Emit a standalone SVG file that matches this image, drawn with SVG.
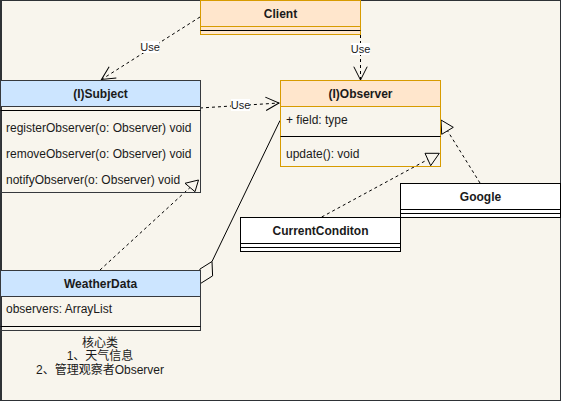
<svg xmlns="http://www.w3.org/2000/svg" width="561" height="401" viewBox="0 0 561 401">
<style>
text{font-family:"Liberation Sans",Arial,"Noto Sans CJK SC",sans-serif;font-size:12px;fill:#1a1a1a}
.t{font-weight:bold;text-anchor:middle}
.c{text-anchor:middle}
.org{fill:#ffe6cc;stroke:#d79b00}
.blu{fill:#cce5ff;stroke:#36393d}
.wht{fill:#ffffff;stroke:#000}
.sep{stroke:#000;fill:none}
.dash{stroke:#000;stroke-dasharray:3 3;fill:none}
.solid{stroke:#000;fill:none}
.lbl{font-size:11px;text-anchor:middle}
.lblbg{fill:#ffffff}
.hollow{fill:#f8f5ed;stroke:#000}
</style>
<defs>
<marker id="open" viewBox="-15 -8 17 16" refX="0" refY="0" markerWidth="17" markerHeight="16" markerUnits="userSpaceOnUse" orient="auto">
<path d="M-13.3,-6.7 L0,0 L-13.3,6.7" fill="none" stroke="#000" stroke-width="1"/>
</marker>
</defs>
<rect x="0.5" y="0.5" width="560" height="400" fill="#f8f5ed" stroke="#2e3236"/>
<line x1="1.5" y1="0" x2="1.5" y2="401" stroke="#2e3236"/>

<g id="connectors">
<path class="dash" d="M200,17 L101.5,79.5" marker-end="url(#open)"/>
<rect class="lblbg" x="141" y="41" width="18" height="12"/>
<text class="lbl" x="150" y="51">Use</text>

<path class="dash" d="M360.5,17 L360.5,80" marker-end="url(#open)"/>
<rect class="lblbg" x="351" y="43" width="19" height="12"/>
<text class="lbl" x="360.5" y="53">Use</text>

<path class="dash" d="M200,108 L279,103" marker-end="url(#open)"/>
<rect class="lblbg" x="231" y="99" width="19" height="12"/>
<text class="lbl" x="240.5" y="109">Use</text>

<path class="dash" d="M100,270 L190,187.5"/>
<polygon class="hollow" points="198.5,180 185,183.3 195,191.7"/>

<path class="dash" d="M321.7,217 L427.8,159.5"/>
<polygon class="hollow" points="439.3,153.3 425,153.3 430.7,165.7"/>

<path class="dash" d="M480,183 L447.5,130.8"/>
<polygon class="hollow" points="441,120 453.3,127.3 441.7,134.3"/>

<path class="solid" d="M280,120.5 L212,261.5"/>
<polygon class="hollow" points="212,261.5 212.6,275.9 200.5,283.5 199.9,269.1"/>
</g>

<g id="client">
<rect class="org" x="200.5" y="0.5" width="160" height="34"/>
<line x1="200.5" y1="26.5" x2="360.5" y2="26.5" stroke="#d79b00"/>
<line class="sep" x1="200.5" y1="30.5" x2="360.5" y2="30.5"/>
<text class="t" x="280.5" y="17.5">Client</text>
</g>

<g id="subject">
<rect x="0.5" y="80.5" width="200" height="112" fill="none" stroke="#36393d"/>
<rect class="blu" x="0.5" y="80.5" width="200" height="26"/>
<line class="sep" x1="0.5" y1="110.5" x2="200.5" y2="110.5"/>
<text class="t" x="100.5" y="97.5">(I)Subject</text>
<text x="6" y="132">registerObserver(o: Observer) void</text>
<text x="6" y="158">removeObserver(o: Observer) void</text>
<text x="6" y="184">notifyObserver(o: Observer) void</text>
</g>

<g id="observer">
<rect x="280.5" y="80.5" width="160" height="86" fill="none" stroke="#d79b00"/>
<rect class="org" x="280.5" y="80.5" width="160" height="26"/>
<line class="sep" x1="280.5" y1="136.5" x2="440.5" y2="136.5"/>
<text class="t" x="360.5" y="97.5">(I)Observer</text>
<text x="286" y="124">+ field: type</text>
<text x="286" y="158">update(): void</text>
</g>

<g id="google">
<rect class="wht" x="400.5" y="183.5" width="160" height="34"/>
<line class="sep" x1="400.5" y1="209.5" x2="560.5" y2="209.5"/>
<line class="sep" x1="400.5" y1="213.5" x2="560.5" y2="213.5"/>
<text class="t" x="480.5" y="200.5">Google</text>
</g>

<g id="currentconditon">
<rect class="wht" x="240.5" y="217.5" width="160" height="34"/>
<line class="sep" x1="240.5" y1="243.5" x2="400.5" y2="243.5"/>
<line class="sep" x1="240.5" y1="247.5" x2="400.5" y2="247.5"/>
<text class="t" x="320.5" y="234.5">CurrentConditon</text>
</g>

<g id="weatherdata">
<rect x="0.5" y="270.5" width="200" height="60" fill="none" stroke="#36393d"/>
<rect class="blu" x="0.5" y="270.5" width="200" height="26"/>
<line class="sep" x1="0.5" y1="326.5" x2="200.5" y2="326.5"/>
<text class="t" x="100.5" y="287.5">WeatherData</text>
<text x="6" y="313">observers: ArrayList</text>
</g>

<g id="note">
<text class="c" x="100" y="346.5">核心类</text>
<text class="c" x="100" y="360">1、天气信息</text>
<text class="c" x="100" y="374">2、管理观察者Observer</text>
</g>
</svg>
